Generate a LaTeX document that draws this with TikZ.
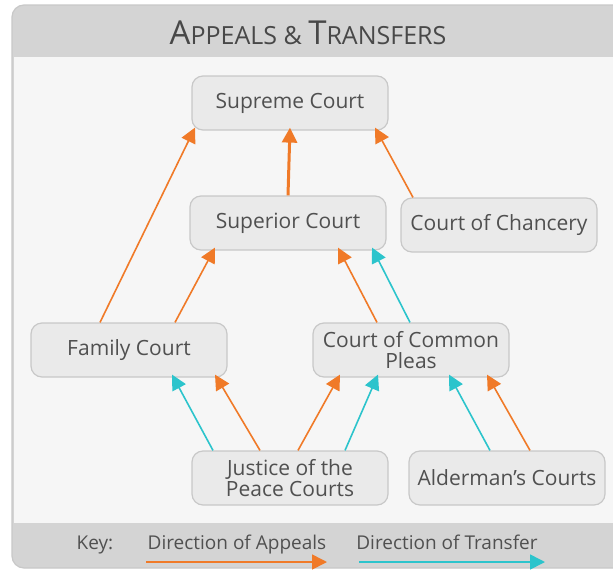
\documentclass[tikz,border=0pt]{standalone}
\usepackage{fontspec}
\setmainfont{Open Sans}
\usetikzlibrary{arrows.meta}

\definecolor{appealc}{RGB}{240,122,40}
\definecolor{transferc}{RGB}{44,196,204}
\definecolor{boxfill}{RGB}{234,234,234}
\definecolor{boxline}{RGB}{200,200,200}
\definecolor{bandc}{RGB}{212,212,212}
\definecolor{pagec}{RGB}{246,246,246}
\definecolor{textc}{RGB}{80,80,80}

\begin{document}
\begin{tikzpicture}[x=1pt,y=-1pt,
    court/.style={draw=boxline,fill=boxfill,line width=1.2pt,rounded corners=11pt,
      minimum width=196pt,minimum height=54pt,text=textc,align=center,
      font=\fontsize{21}{21}\selectfont},
    appeal/.style={draw=appealc,line width=1.6pt,-{Triangle[width=15pt,length=15pt]}},
    transfer/.style={draw=transferc,line width=1.6pt,-{Triangle[width=15pt,length=15pt]}},
    keytext/.style={text=textc,anchor=base,font=\fontsize{19}{20}\selectfont}]
  \useasboundingbox (0,0) rectangle (613,571);
  \clip (0,0) rectangle (613,571);
  % frame
  \fill[white] (0,0) rectangle (613,571);
  \fill[bandc,rounded corners=12pt] (12,5) rectangle (640,568);
  \fill[pagec] (14,57) rectangle (640,523);
  \draw[boxline,line width=1.2pt,rounded corners=12pt] (12,5) rectangle (640,568);
  \node[text=textc!90!black] (title) at (308,33)
    {{\fontsize{33}{34}\selectfont A}{\fontsize{25}{34}\selectfont PPEALS \& }%
     {\fontsize{33}{34}\selectfont T}{\fontsize{25}{34}\selectfont RANSFERS}};
  % courts
  \node[court] (supreme) at (290,103) {Supreme Court};
  \node[court] (superior) at (288,223) {Superior Court};
  \node[court] (chancery) at (499,225) {Court of Chancery};
  \node[court] (family) at (129,350) {Family Court};
  \node[court] (common) at (411,350) {Court of Common\\Pleas};
  \node[court] (justice) at (290,478) {Justice of the\\Peace Courts};
  \node[court] (alderman) at (507,478) {Alderman’s Courts};
  % appeals and transfers
  \draw[appeal] ([xshift=-29pt]family.north) -- ([xshift=-95pt,yshift=3pt]supreme.south);
  \draw[appeal,line width=3pt] (superior.north) -- ([yshift=3pt]supreme.south);
  \draw[appeal] ([xshift=-86pt]chancery.north) -- ([xshift=85pt,yshift=3pt]supreme.south);
  \draw[appeal] ([xshift=46pt]family.north) -- ([xshift=-73pt,yshift=3pt]superior.south);
  \draw[appeal] ([xshift=-34pt]common.north) -- ([xshift=50pt,yshift=3pt]superior.south);
  \draw[transfer] ([xshift=-1pt]common.north) -- ([xshift=84pt,yshift=3pt]superior.south);
  \draw[transfer] ([xshift=-77pt]justice.north) -- ([xshift=43pt,yshift=3pt]family.south);
  \draw[appeal] ([xshift=-30pt]justice.north) -- ([xshift=86pt,yshift=3pt]family.south);
  \draw[appeal] ([xshift=8pt]justice.north) -- ([xshift=-71pt,yshift=3pt]common.south);
  \draw[transfer] ([xshift=55pt]justice.north) -- ([xshift=-33pt,yshift=3pt]common.south);
  \draw[transfer] ([xshift=-17pt]alderman.north) -- ([xshift=38pt,yshift=3pt]common.south);
  \draw[appeal] ([xshift=23pt]alderman.north) -- ([xshift=76pt,yshift=3pt]common.south);
  % key
  \node[keytext] (key) at (95,549) {Key:};
  \node[keytext] (appealkey) at (237,549) {Direction of Appeals};
  \node[keytext] (transferkey) at (447,549) {Direction of Transfer};
  \coordinate (a1) at (146,562);
  \coordinate (a2) at (327,562);
  \coordinate (t1) at (359,562);
  \coordinate (t2) at (545,562);
  \draw[appeal] (a1) -- (a2);
  \draw[transfer] (t1) -- (t2);
\end{tikzpicture}
\end{document}
